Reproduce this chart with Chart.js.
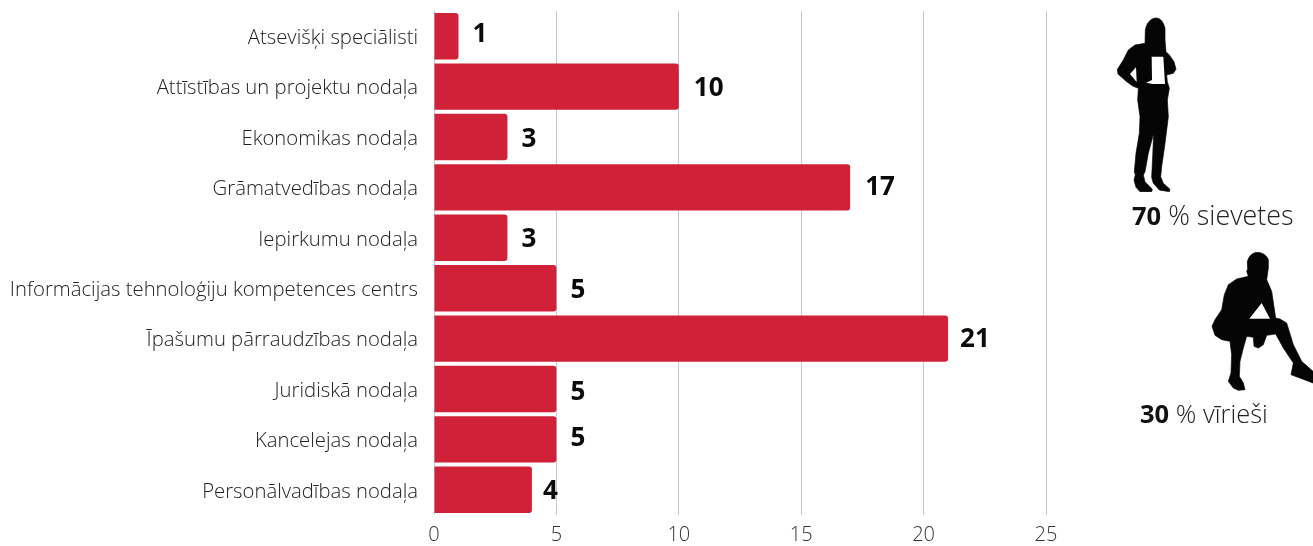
<!DOCTYPE html>
<html>
<head>
<meta charset="utf-8">
<script src="https://cdn.jsdelivr.net/npm/chart.js@4"></script>
<style>
  html, body { margin: 0; padding: 0; background: #fff; overflow: hidden; }
  #wrap { position: relative; width: 1313px; height: 546px; font-family: "Open Sans", sans-serif; }
  #chart { position: absolute; left: 0; top: 0; }
  .figure { position: absolute; filter: blur(0.5px); }
  .share { position: absolute; font-weight: 300; color: #222; white-space: nowrap; line-height: 32px; }
  .share b { font-size: 25.5px; font-weight: 700; color: #111; }
</style>
</head>
<body>
<div id="wrap">
  <canvas id="chart" width="1313" height="546"></canvas>

  <!-- woman -->
  <svg class="figure" style="left:1110px;top:10px" width="75" height="185" viewBox="0 0 225 555">
    <path fill="#050505" stroke="#050505" stroke-width="2" stroke-linejoin="round" d="M138 24 C122 25 110 38 106 60 L105 100 L75 105 L55 120 L40 150 L22 178 L24 192 L50 215 L68 228 L85 235 L83 270 L90 320 L88 370 L78 430 L73 485 L76 495 L72 510 L78 532 L90 545 L125 545 L127 538 L105 515 L100 495 L105 485 L115 430 L131 370 L128 440 L125 502 L130 520 L148 540 L178 545 L180 538 L160 520 L152 500 L155 470 L165 400 L175 320 L172 270 L178 235 L172 215 L170 195 L190 190 L198 178 L192 155 L178 135 L168 125 L165 90 L165 55 C160 35 152 25 138 24 Z"/>
    <path fill="#fff" d="M125 140 L160 140 L165 222 L128 222 L108 218 L126 210 Z"/>
    <path fill="#fff" d="M78 172 L60 192 L80 216 Z"/>
  </svg>
  <div class="share" style="left:1132px;top:199px;font-size:26.9px"><b>70</b> % sievetes</div>

  <!-- man -->
  <svg class="figure" style="left:1205px;top:248px" width="108" height="145" viewBox="0 0 324 435">
    <path fill="#050505" stroke="#050505" stroke-width="2" stroke-linejoin="round" d="M155 13 C140 15 128 28 127 45 L128 62 L125 70 L130 85 L95 93 L70 110 L58 140 L50 185 L30 215 L21 235 L30 262 L50 275 L75 280 L80 320 L78 375 L70 400 L85 420 L100 427 L120 425 L115 405 L103 385 L105 340 L115 300 L125 265 L145 268 L147 295 L160 300 L175 290 L185 262 L212 258 L235 300 L265 345 L258 380 L290 392 L324 405 L324 370 L290 340 L265 290 L245 225 L225 213 L212 210 L200 130 L185 95 L190 60 L190 35 C185 22 172 13 155 13 Z"/>
    <path fill="#fff" d="M133 212 L170 165 L195 212 Z"/>
  </svg>
  <div class="share" style="left:1140px;top:397px;font-size:25.5px"><b>30</b> % vīrieši</div>
</div>

<script>
// Darbinieku skaits pa struktūrvienībām
const departments = [
  "Atsevišķi speciālisti",
  "Attīstības un projektu nodaļa",
  "Ekonomikas nodaļa",
  "Grāmatvedības nodaļa",
  "Iepirkumu nodaļa",
  "Informācijas tehnoloģiju kompetences centrs",
  "Īpašumu pārraudzības nodaļa",
  "Juridiskā nodaļa",
  "Kancelejas nodaļa",
  "Personālvadības nodaļa"
];
const employees = [1, 10, 3, 17, 3, 5, 21, 5, 5, 4];
const xTicks = [0, 5, 10, 15, 20, 25];

const FONT = '"Open Sans", sans-serif';

// Value labels next to the bar ends
const valueLabels = {
  id: 'valueLabels',
  // category labels sit a bit under the bar centre in the original
  beforeDraw(chart) {
    chart.scales.y.getLabelItems().forEach(item => { item.options.translation[1] += 2; });
  },
  afterDatasetsDraw(chart) {
    const { ctx } = chart;
    const nudge = [-2, 2, 3, 0, 2, 2, 1, 4, -1, 2];
    const gap = [14, 15, 14, 15, 14, 14, 12, 14, 14, 11];
    ctx.save();
    ctx.font = '700 26px ' + FONT;
    ctx.fillStyle = '#0a0a0a';
    ctx.textAlign = 'left';
    ctx.textBaseline = 'middle';
    chart.getDatasetMeta(0).data.forEach((bar, i) => {
      ctx.fillText(employees[i], bar.x + gap[i], bar.y + nudge[i]);
    });
    ctx.restore();
  }
};

new Chart(document.getElementById('chart'), {
  type: 'bar',
  data: {
    labels: departments,
    datasets: [{
      data: employees,
      backgroundColor: '#d02138',
      borderRadius: { topRight: 3, bottomRight: 3 },
      borderSkipped: false,
      categoryPercentage: 1,
      barPercentage: 0.92
    }]
  },
  options: {
    indexAxis: 'y',
    responsive: false,
    animation: false,
    layout: { padding: { top: 11, right: 267 } },
    plugins: { legend: { display: false }, tooltip: { enabled: false } },
    scales: {
      x: {
        min: 0,
        max: 25,
        afterBuildTicks: axis => { axis.ticks = xTicks.map(v => ({ value: v })); },
        afterFit: axis => { axis.height = 31; },
        border: { display: false },
        grid: { color: '#c8c8c8', lineWidth: 1, drawTicks: false },
        ticks: {
          color: '#333',
          padding: 8,
          maxRotation: 0,
          font: { family: FONT, size: 20, weight: 300 }
        }
      },
      y: {
        afterFit: axis => { axis.width = 434; axis.paddingTop = 0; axis.paddingBottom = 0; },
        border: { display: false },
        grid: { display: false, drawTicks: false },
        ticks: {
          color: '#222',
          padding: 16,
          autoSkip: false,
          font: { family: FONT, size: 20.3, weight: 300 }
        }
      }
    }
  },
  plugins: [valueLabels]
});
</script>
</body>
</html>
